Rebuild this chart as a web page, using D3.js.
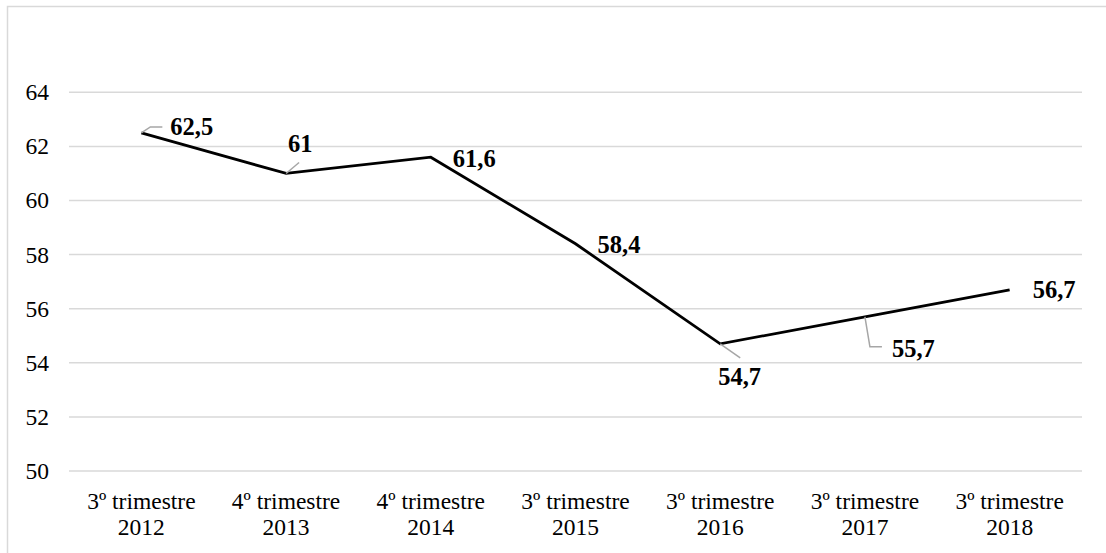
<!DOCTYPE html>
<html>
<head>
<meta charset="utf-8">
<script src="https://cdn.jsdelivr.net/npm/d3@7"></script>
<style>
  html, body { margin: 0; padding: 0; background: #fff; }
  svg { display: block; }
</style>
</head>
<body>
<svg id="chart" width="1106" height="553"></svg>
<script>
// Series: share (%) by quarter
const categories = [
  ["3º trimestre", "2012"],
  ["4º trimestre", "2013"],
  ["4º trimestre", "2014"],
  ["3º trimestre", "2015"],
  ["3º trimestre", "2016"],
  ["3º trimestre", "2017"],
  ["3º trimestre", "2018"]
];
const values = [62.5, 61, 61.6, 58.4, 54.7, 55.7, 56.7];
const labels = ["62,5", "61", "61,6", "58,4", "54,7", "55,7", "56,7"];
const yTicks = [50, 52, 54, 56, 58, 60, 62, 64];

// Label placement relative to each point (text anchor + optional leader path)
const labelLayout = [
  { dx: 29, dy: 2,   leader: [[0, 0], [9, -6], [21, -6]] },
  { dx: 2,  dy: -21, leader: [[0, 0], [13, -11]] },
  { dx: 22, dy: 10,  leader: null },
  { dx: 22, dy: 9,   leader: null },
  { dx: -2, dy: 41,  leader: [[0, 0], [20, 14]] },
  { dx: 27, dy: 40,  leader: [[0, 0], [5, 30], [17, 30]] },
  { dx: 23, dy: 8,   leader: null }
];

const FONT = "'Times New Roman', 'Liberation Serif', Times, 'DejaVu Serif', serif";

const svg = d3.select("#chart").attr("font-family", FONT);

// Outer frame
svg.append("rect")
  .attr("x", 7.5).attr("y", 6.5)
  .attr("width", 1120).attr("height", 570)
  .attr("fill", "none").attr("stroke", "#d9d9d9").attr("stroke-width", 1.5);

const x = d3.scaleBand()
  .domain(d3.range(categories.length))
  .range([69, 1082])
  .padding(0);

const y = d3.scaleLinear().domain([50, 64]).range([471, 92.3]);

const cx = i => x(i) + x.bandwidth() / 2;

// Gridlines
svg.append("g").selectAll("line")
  .data(yTicks).join("line")
  .attr("x1", 69).attr("x2", 1082)
  .attr("y1", d => y(d)).attr("y2", d => y(d))
  .attr("stroke", "#d9d9d9").attr("stroke-width", 1.5);

// Y axis labels
svg.append("g").selectAll("text")
  .data(yTicks).join("text")
  .attr("x", 49).attr("y", d => y(d))
  .attr("dy", "0.34em")
  .attr("text-anchor", "end")
  .attr("font-family", FONT)
  .attr("font-size", 23.5)
  .text(d => d);

// X axis labels (two lines)
const xl = svg.append("g").selectAll("text")
  .data(categories).join("text")
  .attr("text-anchor", "middle")
  .attr("font-family", FONT)
  .attr("font-size", 23.5);
xl.append("tspan").attr("x", (d, i) => cx(i)).attr("y", 509).text(d => d[0]);
xl.append("tspan").attr("x", (d, i) => cx(i)).attr("y", 535).text(d => d[1]);

// Line
const line = d3.line().x((d, i) => cx(i)).y(d => y(d));
svg.append("path")
  .datum(values)
  .attr("d", line)
  .attr("fill", "none")
  .attr("stroke", "#000")
  .attr("stroke-width", 2.8)
  .attr("stroke-linejoin", "miter");

// Leader lines
svg.append("g").selectAll("path")
  .data(values.map((v, i) => ({ v, i })).filter(d => labelLayout[d.i].leader))
  .join("path")
  .attr("d", d => d3.line()(labelLayout[d.i].leader.map(p => [cx(d.i) + p[0], y(d.v) + p[1]])))
  .attr("fill", "none")
  .attr("stroke", "#a6a6a6")
  .attr("stroke-width", 1.5);

// Data labels
svg.append("g").selectAll("text")
  .data(values).join("text")
  .attr("x", (d, i) => cx(i) + labelLayout[i].dx)
  .attr("y", (d, i) => y(d) + labelLayout[i].dy)
  .attr("font-family", FONT)
  .attr("font-size", 24.5)
  .attr("font-weight", "bold")
  .text((d, i) => labels[i]);
</script>
</body>
</html>
